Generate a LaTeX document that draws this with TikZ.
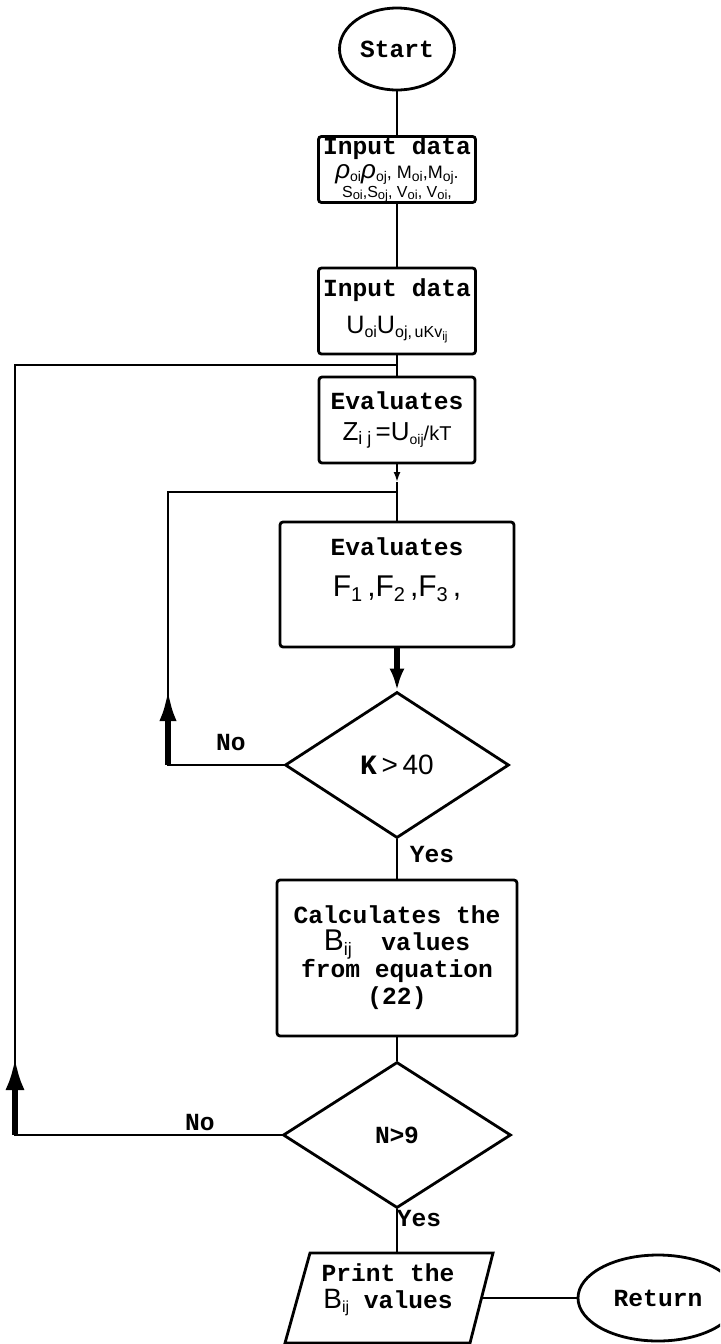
\documentclass[tikz,border=0pt]{standalone}
\usepackage{fontspec}
\setmonofont{Liberation Mono}
\newfontfamily\lsans{Liberation Sans}
\usetikzlibrary{shapes.geometric,arrows.meta}
\newcommand{\mth}{\lsans\mdseries}
\newcommand{\lo}[2][7]{\raisebox{-0.3ex}{\fontsize{#1}{#1}\selectfont #2}}

\tikzset{
  box/.style={draw,line width=1.4pt,rounded corners=1.5pt,inner sep=1pt,align=center,
    font=\ttfamily\bfseries\fontsize{12.3}{13.5}\selectfont},
  decide/.style={draw,diamond,line width=1.4pt,inner sep=0pt,
    font=\ttfamily\bfseries\fontsize{12.3}{13.5}\selectfont},
  term/.style={draw,ellipse,line width=1.4pt,inner sep=0pt,
    font=\ttfamily\bfseries\fontsize{12.3}{13.5}\selectfont},
  lbl/.style={inner sep=0pt,font=\ttfamily\bfseries\fontsize{12.3}{13.5}\selectfont},
  link/.style={line width=1.1pt},
}

\begin{document}
\begin{tikzpicture}[x=0.5pt,y=-0.5pt]
  \useasboundingbox (0,0) rectangle (720,1344);
  \clip (0,0) rectangle (720,1344);
  % main column
  \node[term,minimum width=57.5pt,minimum height=41pt] (start) at (397,49) {Start};
  \node[box,minimum width=78.5pt,minimum height=29.5pt,inner sep=0pt] (in1) at (397,169.5)
    {Input data\\[-1.5pt]
     {\mth\fontsize{9}{9}\selectfont{\itshape\fontsize{13}{13}\selectfont ρ}\lo[7]{oi}{\itshape\fontsize{13}{13}\selectfont ρ}\lo[7]{oj}, M\lo[7]{oi},M\lo[7]{oj}.}\\[-4pt]
     {\mth\fontsize{8}{8}\selectfont S\lo[6.5]{oi},S\lo[6.5]{oj}, V\lo[6.5]{oi}, V\lo[6.5]{oi},}};
  \node[box,minimum width=78.5pt,minimum height=43pt] (in2) at (397,311)
    {Input data\\[5pt]
     {\mth\fontsize{12.6}{13}\selectfont U\lo[8]{oi}U\lo[8]{oj}\lo[8]{,\,uKv\lo[6]{ij}}}};
  \node[box,minimum width=78pt,minimum height=43pt] (evz) at (397,420)
    {Evaluates\\[2pt]
     {\mth\fontsize{13}{13}\selectfont Z\lo[9]{i j}\,=U\lo[7]{oij}{\fontsize{10}{10}\selectfont/kT}}};
  \coordinate (mark) at (397,482);
  \node[box,minimum width=117pt,minimum height=62.5pt] (evf) at (397,584.5)
    {Evaluates\\[7pt]
     {\mth\fontsize{15}{15}\selectfont F\lo[10]{1}\,,F\lo[10]{2}\,,F\lo[10]{3}\,,}\\[4pt]\mbox{}};
  \node[decide,minimum width=112pt,minimum height=73pt] (dk) at (397,765)
    {{\fontsize{14}{14}\selectfont K}{\mth\fontsize{14}{14}\selectfont\,>\,40}};
  \node[box,minimum width=120pt,minimum height=78pt] (calc) at (397,958)
    {Calculates the\\
     {\mth\fontsize{15}{15}\selectfont B\lo[9]{ij}}\ \ values\\
     from equation\\
     (22)};
  \node[decide,minimum width=114pt,minimum height=73pt] (dn) at (397,1135)
    {N{\lsans\bfseries >}9};
  % print and return
  \coordinate (pa) at (310,1253);
  \coordinate (pb) at (493,1253);
  \coordinate (pc) at (470,1343);
  \coordinate (pd) at (285,1343);
  \coordinate (ptop) at (397,1253);
  \coordinate (pright) at (482,1298);
  \draw[line width=1.4pt] (pa) -- (pb) -- (pc) -- (pd) -- cycle;
  \node[lbl,align=center] (print) at (388,1290)
    {Print the\\{\mth\fontsize{14}{14}\selectfont B\lo[8]{ij}} values};
  \node[term,minimum width=80pt,minimum height=43pt] (ret) at (658,1298) {Return};
  % links
  \draw[link] (start) -- (in1);
  \draw[link] (in1) -- (in2);
  \draw[link] (in2) -- (evz);
  \draw[link,-{Latex[length=5pt,width=3.5pt]}] (evz) -- (mark);
  \draw[link] (mark) -- (evf);
  \draw[line width=2.6pt,-{Latex[length=11pt,width=7.5pt]}] (evf) -- (dk);
  \draw[link] (dk) -- (calc);
  \draw[link] (calc) -- (dn);
  \draw[link] (dn) -- (ptop);
  \draw[link] (pright) -- (ret);
  % inner loop (K)
  \coordinate (kturn) at (168,765);
  \coordinate (ktop) at (168,492);
  \coordinate (kjoin) at (397,492);
  \coordinate (ktip) at (168,688);
  \draw[link] (dk.west) -- (kturn) -- (ktop) -- (kjoin);
  \draw[line width=3pt,-{Latex[length=16.5pt,width=8.5pt]}] (kturn) -- (ktip);
  % outer loop (N)
  \coordinate (nturn) at (15,1135);
  \coordinate (ntop) at (15,365);
  \coordinate (njoin) at (397,365);
  \coordinate (ntip) at (15,1057);
  \draw[link] (dn.west) -- (nturn) -- (ntop) -- (njoin);
  \draw[line width=3pt,-{Latex[length=16.5pt,width=9.5pt]}] (nturn) -- (ntip);
  % labels
  \node[lbl] (no1) at (231,743) {No};
  \node[lbl] (yes1) at (432,855) {Yes};
  \node[lbl] (no2) at (200,1123) {No};
  \node[lbl] (yes2) at (419,1219) {Yes};
\end{tikzpicture}
\end{document}
